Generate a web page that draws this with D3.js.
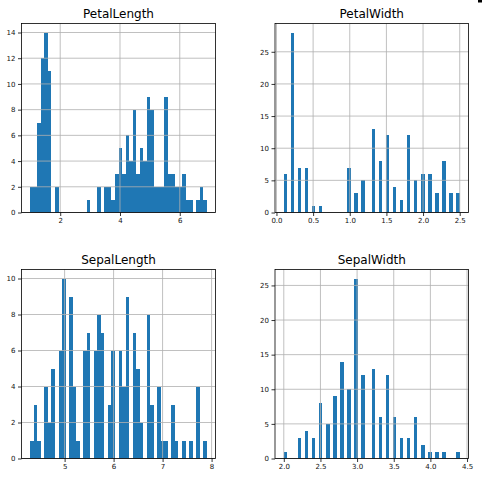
<!DOCTYPE html>
<html>
<head>
<meta charset="utf-8">
<script src="https://cdn.jsdelivr.net/npm/d3@7"></script>
<style>
  html, body { margin: 0; padding: 0; background: #fff; }
  svg { display: block; }
  text { font-family: "DejaVu Sans", sans-serif; }
</style>
</head>
<body>
<svg id="chart" width="482" height="481"></svg>
<script>
// ---- Data (bin counts, 50 equal-width bins over each column's range) ----
const titles = ["PetalLength", "PetalWidth", "SepalLength", "SepalWidth"];

const petalLengthRange = [1.0, 6.9];
const petalLengthCounts = [2,2,7,12,14,11,0,2,0,0, 0,0,0,0,0,0,1,0,0,2, 0,2,2,1,3,5,3,6,4,8, 3,5,4,9,8,2,2,2,9,3, 3,2,2,3,1,1,0,1,2,1];
const petalLengthXTicks = [2, 4, 6];
const petalLengthYTicks = [0, 2, 4, 6, 8, 10, 12, 14];

const petalWidthRange = [0.1, 2.5];
const petalWidthCounts = [6,0,28,0,7,0,7,0,1,0, 1,0,0,0,0,0,0,0,7,0, 3,0,5,0,0,13,0,8,0,12, 0,4,0,2,0,12,0,5,0,6, 0,6,0,3,0,8,0,3,0,3];
const petalWidthXTicks = [0.0, 0.5, 1.0, 1.5, 2.0, 2.5];
const petalWidthYTicks = [0, 5, 10, 15, 20, 25];

const sepalLengthRange = [4.3, 7.9];
const sepalLengthCounts = [1,3,1,0,4,2,5,0,6,10, 0,9,4,1,0,6,7,0,6,8, 7,0,3,6,0,6,4,9,0,7, 5,2,0,8,3,0,4,1,1,0, 3,1,0,1,0,1,0,4,0,1];
const sepalLengthXTicks = [5, 6, 7, 8];
const sepalLengthYTicks = [0, 2, 4, 6, 8, 10];

const sepalWidthRange = [2.0, 4.4];
const sepalWidthCounts = [1,0,0,0,3,0,4,0,3,0, 8,0,5,0,9,0,14,0,10,0, 26,0,12,0,0,13,0,6,0,12, 0,6,0,3,0,3,0,6,0,2, 0,1,0,1,0,1,0,0,0,1];
const sepalWidthXTicks = [2.0, 2.5, 3.0, 3.5, 4.0, 4.5];
const sepalWidthYTicks = [0, 5, 10, 15, 20, 25];

// ---- Layout ----
const panels = [
  { title: titles[0], range: petalLengthRange, counts: petalLengthCounts, xt: petalLengthXTicks, yt: petalLengthYTicks, xfmt: d3.format("d"),
    box: { x0: 21.5, x1: 215.5, y0: 23.5, y1: 212.5 } },
  { title: titles[1], range: petalWidthRange, counts: petalWidthCounts, xt: petalWidthXTicks, yt: petalWidthYTicks, xfmt: d3.format(".1f"),
    box: { x0: 275, x1: 468.5, y0: 23.5, y1: 212.5 } },
  { title: titles[2], range: sepalLengthRange, counts: sepalLengthCounts, xt: sepalLengthXTicks, yt: sepalLengthYTicks, xfmt: d3.format("d"),
    box: { x0: 21.5, x1: 215.5, y0: 269.5, y1: 458.5 } },
  { title: titles[3], range: sepalWidthRange, counts: sepalWidthCounts, xt: sepalWidthXTicks, yt: sepalWidthYTicks, xfmt: d3.format(".1f"),
    box: { x0: 275, x1: 468.5, y0: 269.5, y1: 458.5 } }
];

const svg = d3.select("#chart");
const nBins = 50;

panels.forEach(p => {
  const [lo, hi] = p.range;
  const span = hi - lo;
  const w = span / nBins;
  const maxC = d3.max(p.counts);
  const x = d3.scaleLinear().domain([lo - 0.05 * span, hi + 0.05 * span]).range([p.box.x0, p.box.x1]);
  const y = d3.scaleLinear().domain([0, maxC * 1.05]).range([p.box.y1, p.box.y0]);

  const g = svg.append("g");

  // bars
  const bins = p.counts.map((c, i) => ({ x0: lo + i * w, x1: lo + (i + 1) * w, c }));
  g.append("g").attr("shape-rendering", "crispEdges")
    .selectAll("rect").data(bins.filter(b => b.c > 0)).join("rect")
    .attr("x", d => x(d.x0))
    .attr("width", d => x(d.x1) - x(d.x0))
    .attr("y", d => y(d.c))
    .attr("height", d => y(0) - y(d.c))
    .attr("fill", "#1f77b4");

  // grid (drawn above bars, like matplotlib default)
  const grid = g.append("g").attr("stroke", "#b0b0b0").attr("stroke-width", 0.8);
  p.xt.forEach(t => grid.append("line").attr("x1", x(t)).attr("x2", x(t)).attr("y1", p.box.y0).attr("y2", p.box.y1));
  p.yt.forEach(t => grid.append("line").attr("x1", p.box.x0).attr("x2", p.box.x1).attr("y1", y(t)).attr("y2", y(t)));

  // axes
  const xAxis = d3.axisBottom(x).tickValues(p.xt).tickFormat(p.xfmt).tickSize(3.5).tickPadding(2.5);
  const yAxis = d3.axisLeft(y).tickValues(p.yt).tickFormat(d3.format("d")).tickSize(3.5).tickPadding(2.5);
  const gx = g.append("g").attr("transform", `translate(0,${p.box.y1})`).call(xAxis);
  const gy = g.append("g").attr("transform", `translate(${p.box.x0},0)`).call(yAxis);
  [gx, gy].forEach(a => {
    a.select(".domain").remove();
    a.selectAll(".tick line").attr("stroke", "#000").attr("stroke-width", 0.8);
    a.selectAll(".tick text").attr("fill", "#111").style("font-size", "7px").style("font-family", "DejaVu Sans, sans-serif");
  });

  // spines
  g.append("rect")
    .attr("x", p.box.x0).attr("y", p.box.y0)
    .attr("width", p.box.x1 - p.box.x0).attr("height", p.box.y1 - p.box.y0)
    .attr("fill", "none").attr("stroke", "#000").attr("stroke-width", 0.8);

  // title
  g.append("text")
    .attr("x", (p.box.x0 + p.box.x1) / 2)
    .attr("y", p.box.y0 - 6)
    .attr("text-anchor", "middle")
    .style("font-size", "12px")
    .attr("fill", "#000")
    .text(p.title);
});

// small dark mark at top-right corner of the reference
svg.append("rect").attr("x", 478).attr("y", 0).attr("width", 4).attr("height", 2.5).attr("fill", "#000");
</script>
</body>
</html>
